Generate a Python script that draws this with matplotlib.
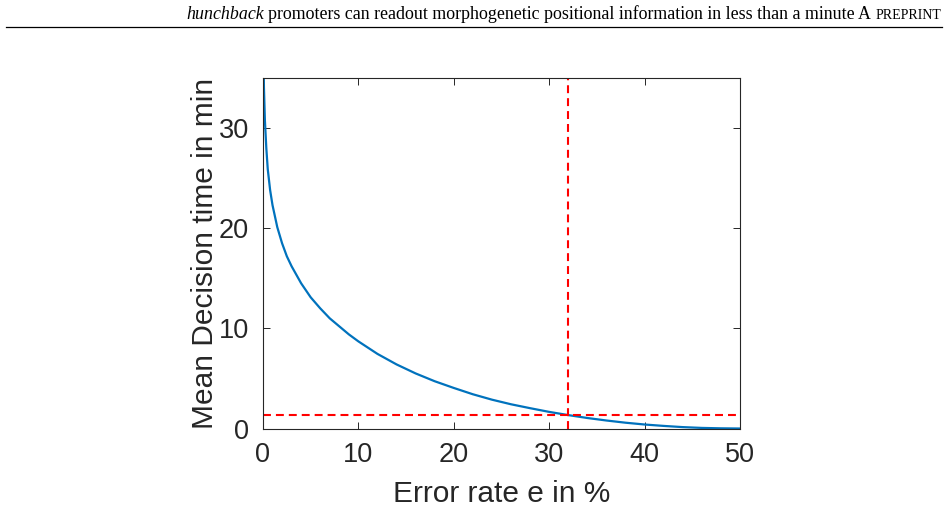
import numpy as np
import matplotlib
matplotlib.use('Agg')
import matplotlib.pyplot as plt
from matplotlib.lines import Line2D

# 读图得到的曲线数据 (错误率 %, 平均决策时间 min)
error_rate = [0.05, 0.1, 0.2, 0.35, 0.5, 0.75, 1.0, 1.5, 2.0, 2.5, 3.0, 4.0, 5.0,
              6.0, 7.0, 8.0, 9.0, 10.0, 12.0, 14.0, 16.0, 18.0, 20.0, 22.0, 24.0,
              26.0, 28.0, 30.0, 32.0, 34.0, 36.0, 38.0, 40.0, 42.0, 44.0, 46.0,
              48.0, 50.0]
decision_time = [37.6, 34.1, 30.8, 28.0, 25.9, 23.8, 22.3, 20.1, 18.5, 17.2, 16.2, 14.5, 13.1,
                 12.0, 11.0, 10.2, 9.4, 8.7, 7.45, 6.4, 5.5, 4.72, 4.05, 3.42, 2.88,
                 2.42, 2.03, 1.66, 1.34, 1.05, 0.8, 0.58, 0.4, 0.26, 0.14, 0.06,
                 0.02, 0.0]
# 红色虚线位置
e_mark = 32
t_mark = 1.32
x_ticks = [0, 10, 20, 30, 40, 50]
y_ticks = [0, 10, 20, 30]

header_italic = 'hunchback'
header_text = 'promoters can readout morphogenetic positional information in less than a minute'

plt.rcParams['font.family'] = ['Liberation Sans', 'DejaVu Sans']
axis_color = '#262626'

fig = plt.figure(figsize=(9.48, 5.07), dpi=100)
ax = fig.add_axes([0.2774, 0.1548, 0.5032, 0.6914])

ax.plot(error_rate, decision_time, color='#0072BD', lw=1.6)
ax.axvline(e_mark, color='#FF0000', lw=1.5, dashes=(3.8, 2.4))
ax.axhline(t_mark, color='#FF0000', lw=1.5, dashes=(3.8, 2.4))

ax.set_xlim(0, 50)
ax.set_ylim(0, 35)
ax.set_xticks(x_ticks)
ax.set_yticks(y_ticks)
ax.tick_params(direction='in', length=5, width=0.7, colors=axis_color,
               labelsize=19.5, top=True, right=True)
ax.tick_params(axis='x', pad=10)
ax.tick_params(axis='y', pad=10)
for s in ax.spines.values():
    s.set_color(axis_color)
    s.set_linewidth(0.8)
ax.set_xlabel('Error rate e in %', fontsize=21.5, color=axis_color, labelpad=8)
ax.set_ylabel('Mean Decision time in min', fontsize=21.5, color=axis_color, labelpad=0)

# 页眉: 从右往左排版
fig.add_artist(Line2D([6 / 948, 942 / 948], [1 - 27 / 507] * 2, color='black', lw=0.9))
fig.canvas.draw()
renderer = fig.canvas.get_renderer()
W = fig.bbox.width
x = 941 / 948
y = 1 - 19 / 507
pieces = [('PREPRINT', 10.0, 'normal', 4.5),
          ('A', 12.9, 'normal', 3.0),
          (header_text, 12.9, 'normal', 4.5),
          (header_italic, 12.9, 'italic', 0.0)]
for s, size, style, gap in pieces:
    t = fig.text(x, y, s, ha='right', va='baseline', fontsize=size, style=style,
                 family='Liberation Serif', color='black')
    w = t.get_window_extent(renderer).width
    x -= (w + gap) / W

fig.savefig('out.png', dpi=100)
